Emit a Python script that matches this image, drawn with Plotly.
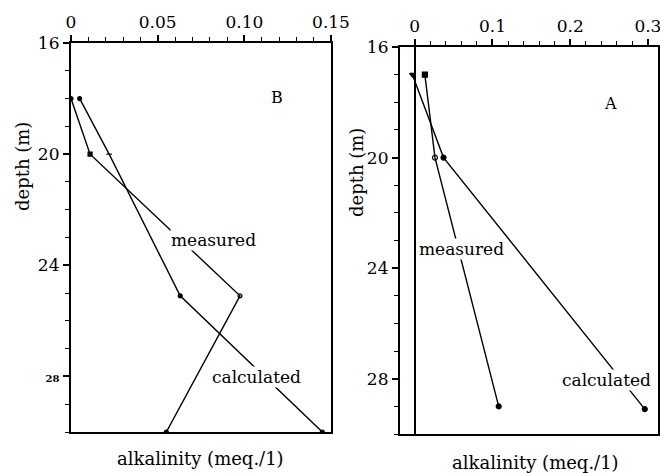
import plotly.graph_objects as go

# Panel B data
b_meas_alk = [0.0, 0.011, 0.0975, 0.055]
b_meas_depth = [18, 20, 25.1, 30]
b_meas_sym = ["circle", "square", "circle-open", "circle"]
b_calc_alk = [0.005, 0.022, 0.063, 0.145]
b_calc_depth = [18, 20, 25.1, 30]
b_calc_sym = ["circle", "line-ew-open", "circle", "circle"]

# Panel A data
a_meas_alk = [0.013, 0.026, 0.108]
a_meas_depth = [17, 20, 29]
a_meas_sym = ["square", "circle-open", "circle"]
a_calc_alk = [-0.003, 0.037, 0.296]
a_calc_depth = [17, 20, 29.1]
a_calc_sym = ["triangle-down", "circle", "circle"]

depth_ticks = [16, 20, 24, 28]
b_xticks = [0, 0.05, 0.10, 0.15]
b_xtext = ["0", "0.05", "0.10", "0.15"]
a_xticks = [0, 0.1, 0.2, 0.3]
a_xtext = ["0", "0.1", "0.2", "0.3"]

FONT = "DejaVu Serif"
fig = go.Figure()

def add(x, y, sym, xa, ya, size):
    fig.add_trace(go.Scatter(
        x=x, y=y, mode="lines+markers", xaxis=xa, yaxis=ya,
        line=dict(color="black", width=1.4),
        marker=dict(symbol=sym, size=size, color="black",
                    line=dict(color="black", width=1.2)),
        showlegend=False, hoverinfo="skip"))

add(b_meas_alk, b_meas_depth, b_meas_sym, "x", "y", 4)
add(b_calc_alk, b_calc_depth, b_calc_sym, "x", "y", 4)
add(a_meas_alk, a_meas_depth, a_meas_sym, "x2", "y2", 5)
add(a_calc_alk, a_calc_depth, a_calc_sym, "x2", "y2", 5)

axis_common = dict(showline=True, linecolor="black", linewidth=2.2, mirror=True,
                   showgrid=False, ticks="outside", tickcolor="black",
                   tickwidth=1.5, ticklen=6, automargin=False,
                   ticklabeloverflow="allow",
                   tickfont=dict(family=FONT, size=17, color="black"))

fig.update_layout(
    width=660, height=473, margin=dict(l=0, r=0, t=0, b=0, pad=0),
    paper_bgcolor="white", plot_bgcolor="white",
    font=dict(family=FONT, color="black"),
    xaxis=dict(domain=[71/660, 331/660], range=[0, 0.15], side="top",
               tickvals=b_xticks, ticktext=b_xtext, zeroline=False,
               minor=dict(dtick=0.01, ticks="outside", ticklen=4,
                          tickcolor="black", tickwidth=1.2),
               anchor="y", **axis_common),
    yaxis=dict(domain=[1-432/473, 1-43/473], range=[30, 16],
               tickvals=depth_ticks,
               ticktext=["16", "20", "24", "<b><span style='font-size:10px'>28</span></b>"],
               zeroline=False,
               minor=dict(dtick=1, ticks="outside", ticklen=4,
                          tickcolor="black", tickwidth=1.2),
               anchor="x", **axis_common),
    xaxis2=dict(domain=[400/660, 658/660], range=[-0.019, 0.313], side="top",
                tickvals=a_xticks, ticktext=a_xtext,
                zeroline=True, zerolinecolor="black", zerolinewidth=1.5,
                minor=dict(dtick=0.02, ticks="outside", ticklen=4,
                           tickcolor="black", tickwidth=1.2),
                anchor="y2", **axis_common),
    yaxis2=dict(domain=[1-434/473, 1-47/473], range=[30, 16],
                tickvals=depth_ticks, ticktext=["16", "20", "24", "28"],
                zeroline=False,
                minor=dict(dtick=1, ticks="outside", ticklen=4,
                           tickcolor="black", tickwidth=1.2),
                anchor="x2", **axis_common),
)

def ann(text, x, y, size=17, angle=0, bg=None):
    fig.add_annotation(text=text, x=x/660, y=1-y/473, xref="paper", yref="paper",
                       showarrow=False, textangle=angle,
                       font=dict(family=FONT, size=size, color="black"),
                       bgcolor=bg, borderpad=0,
                       xanchor="center", yanchor="middle")

ann("B", 277, 97, 16)
ann("A", 610, 103, 16)
ann("measured", 213, 240, 17, bg="white")
ann("calculated", 256, 377, 17, bg="white")
ann("measured", 462, 249, 17, bg="white")
ann("calculated", 606, 380, 17, bg="white")
ann("depth (m)", 22, 167, 18, angle=-90)
ann("depth (m)", 357, 173, 18, angle=-90)
ann("alkalinity (meq./1)", 200, 458, 18)
ann("alkalinity (meq./1)", 535, 462, 18)

fig.write_html("out.html", config={"displayModeBar": False},
               post_script="document.body.style.margin='0';document.body.style.padding='0';")
